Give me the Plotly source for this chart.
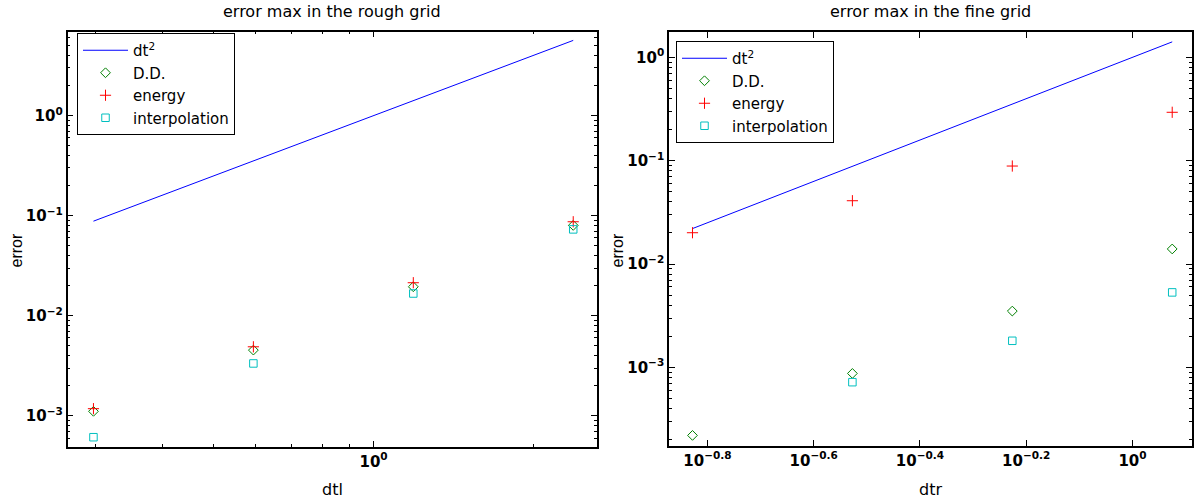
import plotly.graph_objects as go

# ---------------- data ----------------
# left panel: rough grid
dtl = [0.297, 0.594, 1.188, 2.376]
dt2_left = [0.0882, 0.353, 1.411, 5.645]
dd_left = [1.11e-3, 4.54e-3, 0.0195, 0.0800]
energy_left = [1.18e-3, 4.90e-3, 0.0214, 0.0870]
interp_left = [6.12e-4, 3.34e-3, 0.0167, 0.0730]

# right panel: fine grid
dtr = [0.1485, 0.297, 0.594, 1.188]
dt2_right = [0.02205, 0.0882, 0.353, 1.411]
dd_right = [2.2e-4, 8.75e-4, 3.51e-3, 0.0140]
energy_right = [0.0201, 0.041, 0.0888, 0.294]
interp_right = [None, 7.2e-4, 1.81e-3, 5.32e-3]

y_ticks = [1, 0.1, 0.01, 0.001]
y_ticktext = ["10<sup>0</sup>", "10<sup>−1</sup>", "10<sup>−2</sup>", "10<sup>−3</sup>"]
xl_ticks = [1]
xl_ticktext = ["10<sup>0</sup>"]
xr_ticks = [10 ** -0.8, 10 ** -0.6, 10 ** -0.4, 10 ** -0.2, 1]
xr_ticktext = ["10<sup>−0.8</sup>", "10<sup>−0.6</sup>", "10<sup>−0.4</sup>", "10<sup>−0.2</sup>", "10<sup>0</sup>"]

titles = ["error max in the rough grid", "error max in the fine grid"]
legend_names = ["dt<sup>2</sup>", "D.D.", "energy", "interpolation"]

FONT = "DejaVu Sans, Liberation Sans, sans-serif"
VFONT = "Liberation Sans, Arial, sans-serif"
BLUE = "#0000FF"
GREEN = "#008000"
RED = "#FF0000"
CYAN = "#00BFBF"

fig = go.Figure()

def add_panel(x, line, dd, en, ip, xa, ya, leg):
    fig.add_trace(go.Scatter(x=x, y=line, mode="lines", name=legend_names[0],
                             line=dict(color=BLUE, width=1), xaxis=xa, yaxis=ya, legend=leg))
    fig.add_trace(go.Scatter(x=x, y=dd, mode="markers", name=legend_names[1],
                             marker=dict(symbol="diamond-open", size=7.5, color=GREEN, line=dict(width=1)),
                             xaxis=xa, yaxis=ya, legend=leg))
    fig.add_trace(go.Scatter(x=x, y=en, mode="markers", name=legend_names[2],
                             marker=dict(symbol="cross-thin-open", size=8, color=RED, line=dict(width=1, color=RED)),
                             xaxis=xa, yaxis=ya, legend=leg))
    fig.add_trace(go.Scatter(x=x, y=ip, mode="markers", name=legend_names[3],
                             marker=dict(symbol="square-open", size=7.5, color=CYAN, line=dict(width=1)),
                             xaxis=xa, yaxis=ya, legend=leg))

add_panel(dtl, dt2_left, dd_left, energy_left, interp_left, "x", "y", "legend")
add_panel(dtr, dt2_right, dd_right, energy_right, interp_right, "x2", "y2", "legend2")

def minor_vals(decades, mults):
    return [m * 10 ** d for d in decades for m in mults]

axis_common = dict(type="log", showgrid=False, zeroline=False, showline=True,
                   linecolor="black", linewidth=1.6, mirror="ticks", ticks="inside",
                   ticklen=6, tickcolor="black", tickwidth=1, automargin=False,
                   tickfont=dict(family=FONT, size=15, color="black"), tickmode="array")

legend_common = dict(xanchor="left", yanchor="top", bordercolor="black", borderwidth=1,
                     bgcolor="white", font=dict(family=FONT, size=15, color="black"),
                     tracegroupgap=0, itemwidth=45)

fig.update_layout(
    width=1200, height=501, margin=dict(l=0, r=0, t=0, b=0),
    paper_bgcolor="white", plot_bgcolor="white",
    font=dict(family=FONT, color="black"),
    xaxis=dict(**axis_common, domain=[0.0563, 0.4975], range=[-0.576, 0.4206],
               tickvals=xl_ticks, ticktext=["<b>" + t + "</b>" for t in xl_ticktext],
               minor=dict(tickvals=[0.3, 0.4, 0.5, 0.6, 0.7, 0.8, 0.9, 2], ticks="inside",
                          ticklen=3, tickcolor="black"),
               anchor="y"),
    yaxis=dict(**axis_common, domain=[0.108, 0.937], range=[-3.31, 0.84],
               tickvals=y_ticks, ticktext=["<b>" + t + "</b>" for t in y_ticktext],
               minor=dict(tickvals=minor_vals([-4, -3, -2, -1, 0], range(2, 10)), ticks="inside",
                          ticklen=3, tickcolor="black"),
               anchor="x"),
    xaxis2=dict(**axis_common, domain=[0.5575, 0.9933], range=[-0.8725, 0.112],
                tickvals=xr_ticks, ticktext=["<b>" + t + "</b>" for t in xr_ticktext],
                anchor="y2"),
    yaxis2=dict(**axis_common, domain=[0.110, 0.9355], range=[-3.759, 0.242],
                tickvals=y_ticks, ticktext=["<b>" + t + "</b>" for t in y_ticktext],
                minor=dict(tickvals=minor_vals([-4, -3, -2, -1, 0], range(2, 10)), ticks="inside",
                           ticklen=3, tickcolor="black"),
                anchor="x2"),
    legend=dict(x=77 / 1200, y=1 - 33 / 501, **legend_common),
    legend2=dict(x=676 / 1200, y=1 - 41 / 501, **legend_common),
    showlegend=True,
)

ann = [
    dict(text=titles[0], x=332 / 1200, y=1 - 12 / 501),
    dict(text=titles[1], x=930 / 1200, y=1 - 12 / 501),
    dict(text="dtl", x=332 / 1200, y=1 - 489 / 501),
    dict(text="dtr", x=930 / 1200, y=1 - 489 / 501),
]
for a in ann:
    fig.add_annotation(xref="paper", yref="paper", showarrow=False, xanchor="center", yanchor="middle",
                       font=dict(family=FONT, size=16, color="black"), **a)
for xe in [16 / 1200, 617 / 1200]:
    fig.add_annotation(text="error", xref="paper", yref="paper", x=xe, y=0.5, showarrow=False,
                       textangle=-90, xanchor="center", yanchor="middle",
                       font=dict(family=VFONT, size=16, color="black"))

fig.write_html("out.html")
